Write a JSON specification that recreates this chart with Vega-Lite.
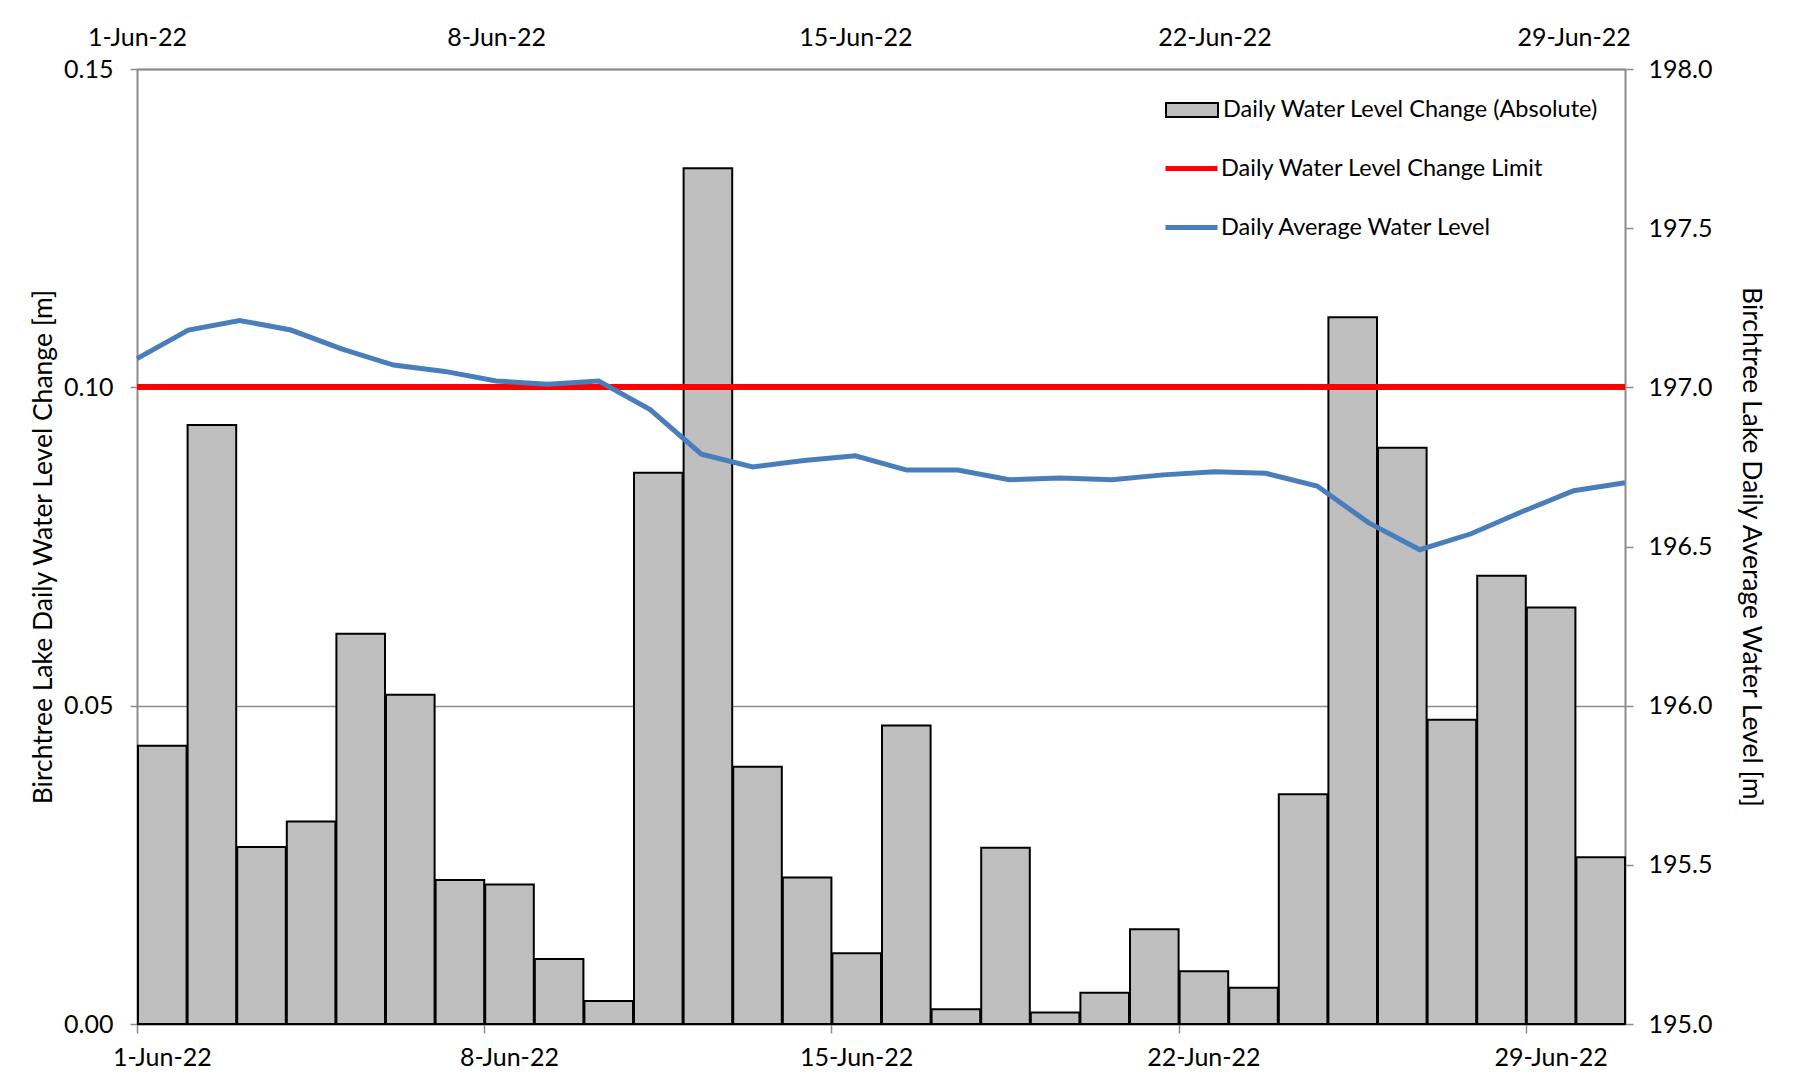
{
  "$schema": "https://vega.github.io/schema/vega-lite/v6.json",
  "width": 1488,
  "height": 955,
  "autosize": {"type": "none"},
  "padding": {"left": 137, "top": 69, "right": 169, "bottom": 65},
  "background": "white",
  "config": {
    "view": {"stroke": null},
    "font": "Lato",
    "axis": {
      "labelFont": "Lato",
      "labelFontSize": 25,
      "labelColor": "#000000",
      "titleFont": "Lato",
      "titleFontSize": 26.5,
      "titleFontWeight": "normal",
      "titleColor": "#000000",
      "domainColor": "#8C8C8C",
      "domainWidth": 2,
      "tickColor": "#8C8C8C",
      "tickWidth": 1.5,
      "gridColor": "#8C8C8C",
      "gridWidth": 1.5,
      "labelFlush": false,
      "labelOverlap": false
    },
    "legend": {
      "labelFont": "Lato",
      "labelFontSize": 23.5,
      "labelColor": "#000000",
      "labelLimit": 0
    }
  },
  "data": {
    "values": [
      {"date": "2022-06-01", "change": 0.0437, "level": 197.09},
      {"date": "2022-06-02", "change": 0.0941, "level": 197.18},
      {"date": "2022-06-03", "change": 0.0278, "level": 197.21},
      {"date": "2022-06-04", "change": 0.0318, "level": 197.18},
      {"date": "2022-06-05", "change": 0.0613, "level": 197.12},
      {"date": "2022-06-06", "change": 0.0517, "level": 197.07},
      {"date": "2022-06-07", "change": 0.0226, "level": 197.05},
      {"date": "2022-06-08", "change": 0.0219, "level": 197.02},
      {"date": "2022-06-09", "change": 0.0102, "level": 197.01},
      {"date": "2022-06-10", "change": 0.0036, "level": 197.02},
      {"date": "2022-06-11", "change": 0.0866, "level": 196.93},
      {"date": "2022-06-12", "change": 0.1344, "level": 196.79},
      {"date": "2022-06-13", "change": 0.0404, "level": 196.75},
      {"date": "2022-06-14", "change": 0.0230, "level": 196.77},
      {"date": "2022-06-15", "change": 0.0111, "level": 196.785},
      {"date": "2022-06-16", "change": 0.0469, "level": 196.74},
      {"date": "2022-06-17", "change": 0.0023, "level": 196.74},
      {"date": "2022-06-18", "change": 0.0277, "level": 196.71},
      {"date": "2022-06-19", "change": 0.0018, "level": 196.715},
      {"date": "2022-06-20", "change": 0.0049, "level": 196.71},
      {"date": "2022-06-21", "change": 0.0149, "level": 196.725},
      {"date": "2022-06-22", "change": 0.0083, "level": 196.735},
      {"date": "2022-06-23", "change": 0.0057, "level": 196.73},
      {"date": "2022-06-24", "change": 0.0361, "level": 196.69},
      {"date": "2022-06-25", "change": 0.1110, "level": 196.575},
      {"date": "2022-06-26", "change": 0.0905, "level": 196.49},
      {"date": "2022-06-27", "change": 0.0478, "level": 196.54},
      {"date": "2022-06-28", "change": 0.0704, "level": 196.61},
      {"date": "2022-06-29", "change": 0.0654, "level": 196.675},
      {"date": "2022-06-30", "change": 0.0262, "level": 196.70}
    ]
  },
  "layer": [
    {
      "mark": {"type": "bar", "stroke": "#000000", "strokeWidth": 2, "opacity": 1},
      "encoding": {
        "x": {
          "field": "date",
          "type": "temporal",
          "timeUnit": "utcyearmonthdate",
          "scale": {
            "type": "utc",
            "domain": [
              {"year": 2022, "month": 6, "date": 1, "utc": true},
              {"year": 2022, "month": 7, "date": 1, "utc": true}
            ]
          },
          "axis": {
            "orient": "bottom",
            "title": null,
            "labelExpr": "utcFormat(datum.value, '%-d-%b-%y')",
            "values": [
              {"year": 2022, "month": 6, "date": 1, "utc": true},
              {"year": 2022, "month": 6, "date": 8, "utc": true},
              {"year": 2022, "month": 6, "date": 15, "utc": true},
              {"year": 2022, "month": 6, "date": 22, "utc": true},
              {"year": 2022, "month": 6, "date": 29, "utc": true}
            ],
            "tickSize": 9,
            "labelOffset": 24.8,
            "labelPadding": 24,
            "labelBaseline": "middle",
            "labelAlign": "center",
            "grid": false
          }
        },
        "y": {
          "field": "change",
          "type": "quantitative",
          "scale": {"domain": [0, 0.15], "nice": false, "zero": true},
          "axis": {
            "orient": "left",
            "title": "Birchtree Lake Daily Water Level Change [m]",
            "values": [0, 0.05, 0.1, 0.15],
            "format": ".2f",
            "tickSize": 7,
            "labelPadding": 17,
            "grid": true,
            "titleAngle": 270,
            "titleX": -94,
            "titleY": 477.5,
            "titleAlign": "center",
            "titleBaseline": "middle"
          }
        },
        "fill": {
          "datum": "Daily Water Level Change (Absolute)",
          "type": "nominal",
          "scale": {
            "domain": ["Daily Water Level Change (Absolute)"],
            "range": ["#BFBFBF"]
          },
          "legend": {
            "title": null,
            "orient": "none",
            "legendX": 1028,
            "legendY": 14,
            "padding": 0,
            "symbolType": "M-1,-0.27H1V0.27H-1Z",
            "symbolSize": 2704,
            "symbolFillColor": "#BFBFBF",
            "symbolStrokeColor": "#000000",
            "symbolStrokeWidth": 2,
            "symbolOpacity": 1,
            "labelOffset": 4
          }
        }
      }
    },
    {
      "mark": {"type": "rule", "strokeWidth": 5},
      "encoding": {
        "y": {
          "datum": 0.1,
          "type": "quantitative",
          "scale": {"domain": [0, 0.15], "nice": false},
          "axis": null
        },
        "stroke": {
          "datum": "Daily Water Level Change Limit",
          "type": "nominal",
          "scale": {
            "domain": ["Daily Water Level Change Limit", "Daily Average Water Level"],
            "range": ["#FF0000", "#4A7EBB"]
          },
          "legend": {
            "title": null,
            "orient": "none",
            "legendX": 1026,
            "legendY": 71,
            "padding": 0,
            "symbolType": "M-1,0H1",
            "symbolSize": 2704,
            "symbolStrokeWidth": 5,
            "symbolOpacity": 1,
            "rowPadding": 19,
            "labelOffset": 1
          }
        }
      }
    },
    {
      "mark": {"type": "line", "strokeWidth": 5},
      "encoding": {
        "x": {
          "field": "date",
          "type": "temporal",
          "scale": {
            "type": "utc",
            "domain": [
              {"year": 2022, "month": 6, "date": 1, "utc": true},
              {"year": 2022, "month": 6, "date": 30, "utc": true}
            ]
          },
          "axis": {
            "orient": "top",
            "title": null,
            "labelExpr": "utcFormat(datum.value, '%-d-%b-%y')",
            "values": [
              {"year": 2022, "month": 6, "date": 1, "utc": true},
              {"year": 2022, "month": 6, "date": 8, "utc": true},
              {"year": 2022, "month": 6, "date": 15, "utc": true},
              {"year": 2022, "month": 6, "date": 22, "utc": true},
              {"year": 2022, "month": 6, "date": 29, "utc": true}
            ],
            "ticks": false,
            "tickSize": 0,
            "labelPadding": 32,
            "labelBaseline": "middle",
            "labelAlign": "center",
            "grid": false
          }
        },
        "y": {
          "field": "level",
          "type": "quantitative",
          "scale": {"domain": [195, 198], "nice": false, "zero": false},
          "axis": {
            "orient": "right",
            "title": "Birchtree Lake Daily Average Water Level [m]",
            "values": [195, 195.5, 196, 196.5, 197, 197.5, 198],
            "format": ".1f",
            "tickSize": 8,
            "labelPadding": 15,
            "grid": false,
            "titleAngle": 90,
            "titleX": 125,
            "titleY": 477.5,
            "titleAlign": "center",
            "titleBaseline": "middle"
          }
        },
        "stroke": {"datum": "Daily Average Water Level", "type": "nominal"}
      }
    }
  ],
  "resolve": {"scale": {"x": "independent", "y": "independent"}}
}
